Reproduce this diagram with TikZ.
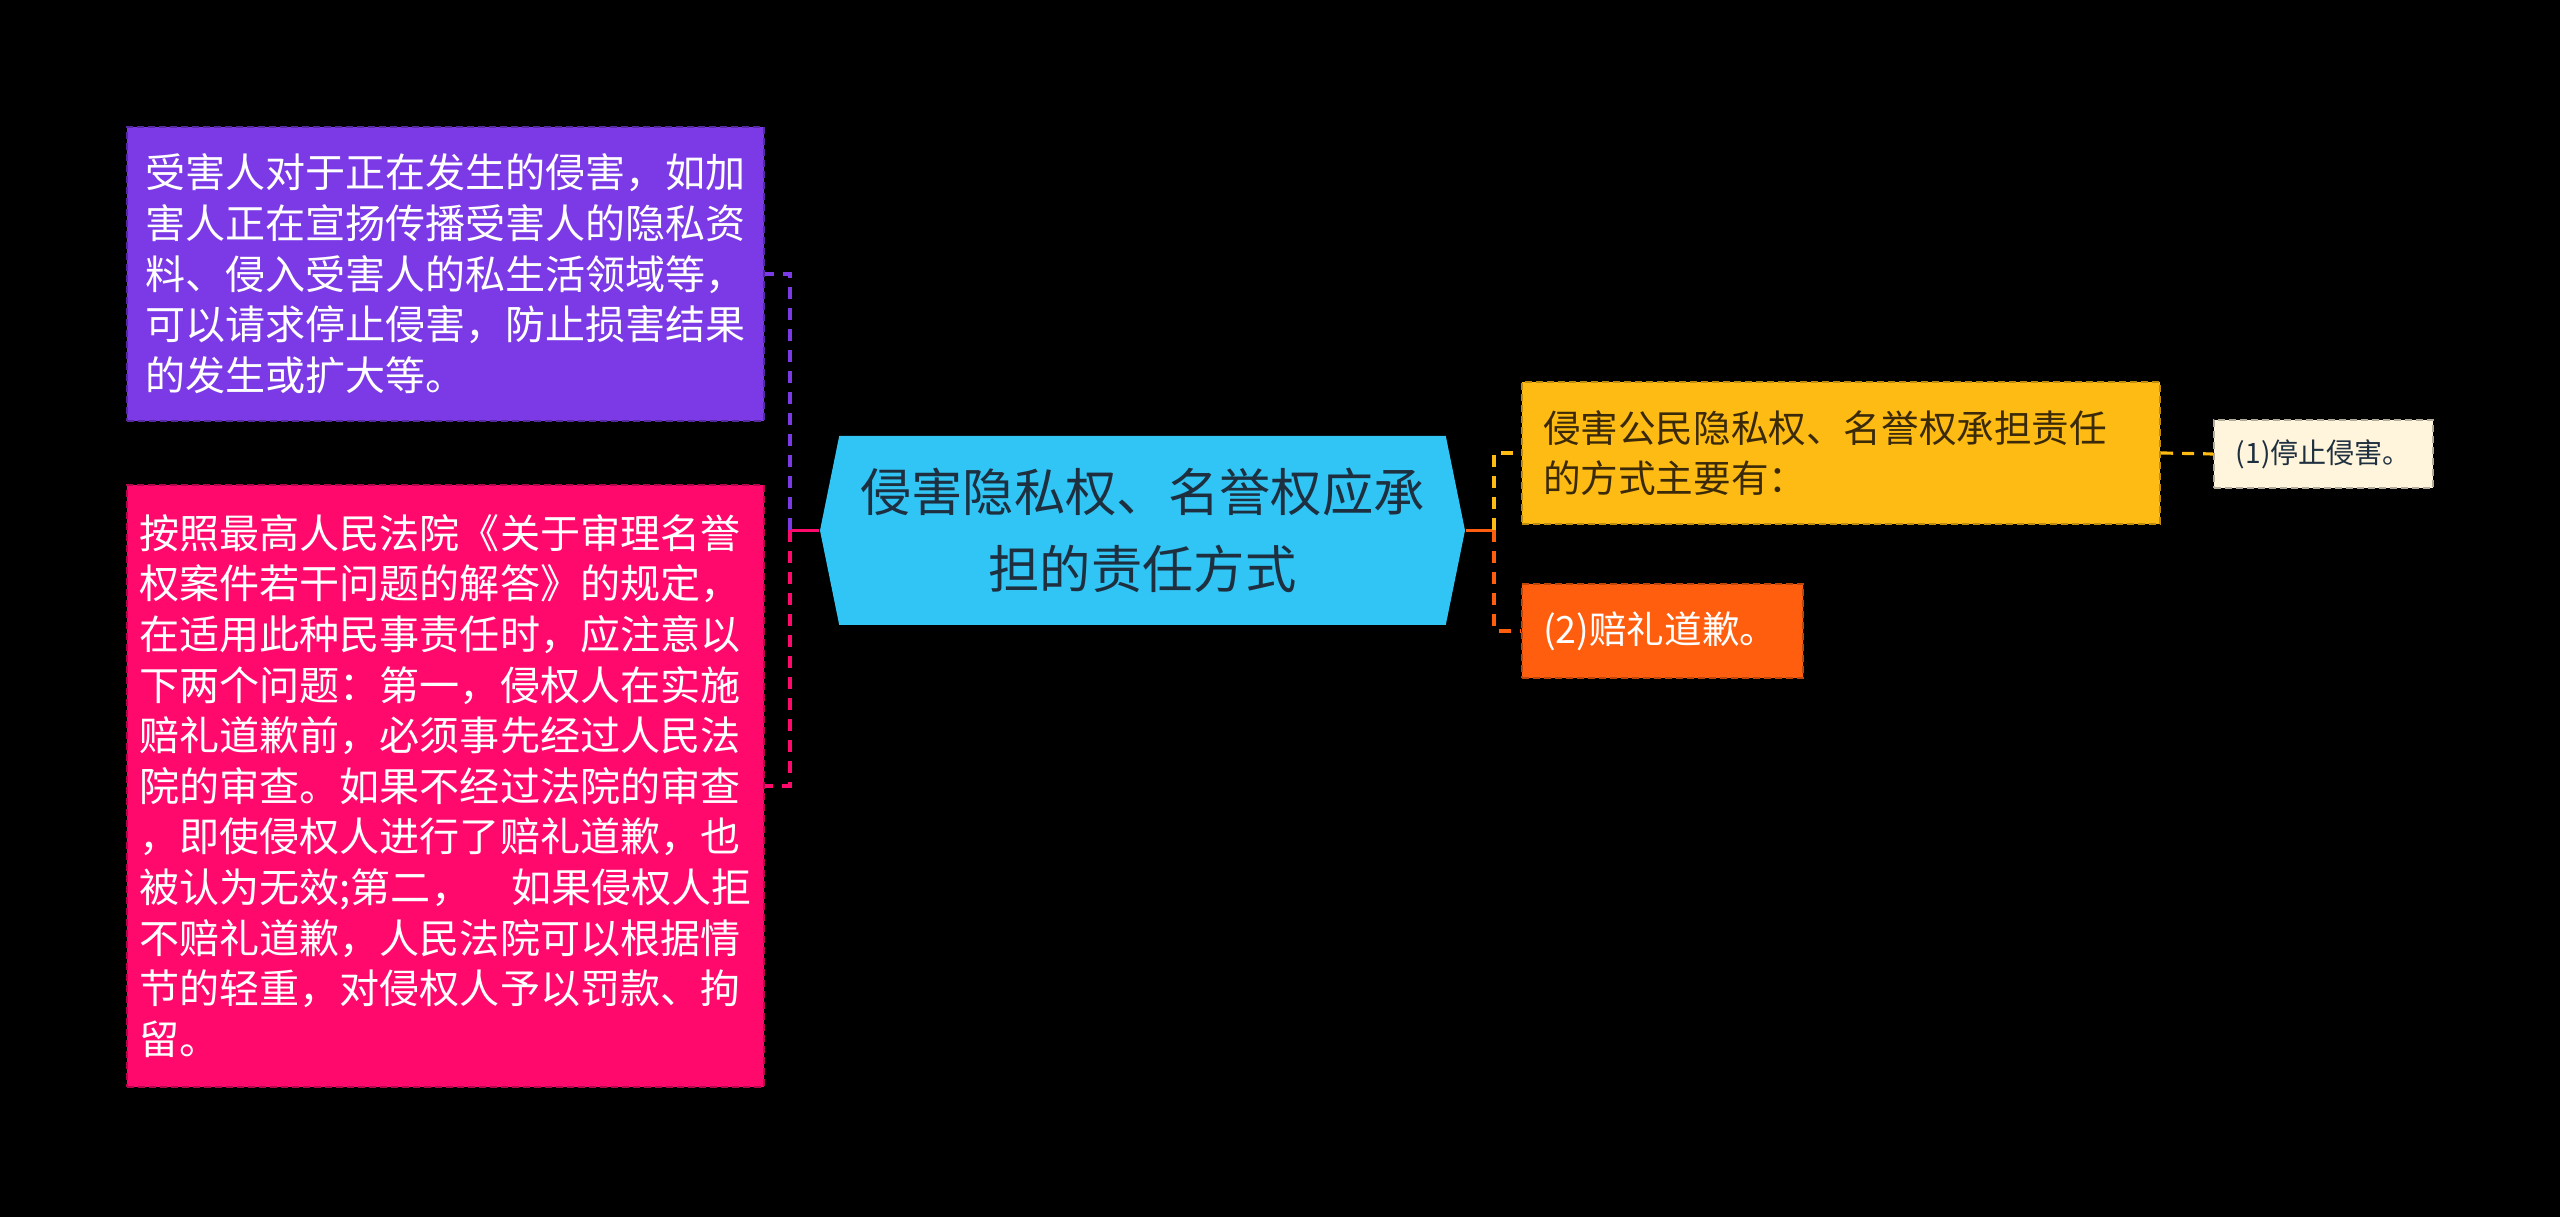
\documentclass[tikz,border=0pt]{standalone}
\usepackage{fontspec}
\setmainfont{Noto Sans CJK SC}
\usetikzlibrary{shapes.symbols}
\definecolor{bgblack}{HTML}{000000}
\definecolor{topviolet}{HTML}{7B3AE6}
\definecolor{rosered}{HTML}{FF0A6C}
\definecolor{skyblue}{HTML}{30C5F5}
\definecolor{amber}{HTML}{FDBB13}
\definecolor{flame}{HTML}{FF5E0F}
\definecolor{cream}{HTML}{FFF5DC}
\definecolor{inkdark}{HTML}{1E2F3F}
\definecolor{inkbrown}{HTML}{3B2A0A}

\begin{document}
\begin{tikzpicture}[x=1mm,y=1mm,
  leafbox/.style={dash pattern=on 0.7mm off 0.4mm, line width=0.6pt, align=left, inner sep=0pt},
  bigtext/.style={font=\fontsize{11.4}{14.4}\selectfont, text=white},
  midtext/.style={font=\fontsize{10.7}{14.4}\selectfont},
  link/.style={line width=0.9pt},
  dlink/.style={link, dash pattern=on 1.2mm off 0.9mm}]
\fill[bgblack] (0,0) rectangle (256,121.7);
\useasboundingbox (0,0) rectangle (256,121.7);

% centre
\node[shape=signal, signal to=west and east, signal pointer angle=157, fill=skyblue,
  minimum width=64.5mm, minimum height=18.9mm, inner sep=0pt, align=center,
  font=\fontsize{14.6}{21.9}\selectfont, text=inkdark] (root) at (114.25,68.65)
  {侵害隐私权、名誉权应承\\担的责任方式};

% left side
\node[leafbox, bigtext, fill=topviolet, draw=topviolet!70!black,
  minimum width=63.7mm, minimum height=29.4mm] (stopnote) at (44.55,94.3)
  {受害人对于正在发生的侵害，如加\\害人正在宣扬传播受害人的隐私资\\料、侵入受害人的私生活领域等，\\可以请求停止侵害，防止损害结果\\的发生或扩大等。};
\node[leafbox, bigtext, fill=rosered, draw=rosered!70!black,
  minimum width=63.7mm, minimum height=60.2mm] (courtnote) at (44.55,43.1)
  {按照最高人民法院《关于审理名誉\\权案件若干问题的解答》的规定，\\在适用此种民事责任时，应注意以\\下两个问题：第一，侵权人在实施\\赔礼道歉前，必须事先经过人民法\\院的审查。如果不经过法院的审查\\，即使侵权人进行了赔礼道歉，也\\被认为无效;第二，　如果侵权人拒\\不赔礼道歉，人民法院可以根据情\\节的轻重，对侵权人予以罚款、拘\\留。};

% right side
\node[leafbox, midtext, text=inkbrown, fill=amber, draw=amber!75!black,
  text width=59.6mm, inner xsep=2.1mm,
  minimum width=63.8mm, minimum height=14.2mm] (ways) at (184.1,76.4)
  {侵害公民隐私权、名誉权承担责任\\的方式主要有：};
\node[leafbox, midtext, text=white, fill=flame, draw=flame!75!black,
  text width=23.9mm, inner xsep=2.1mm,
  minimum width=28.1mm, minimum height=9.4mm] (apology) at (166.25,58.6)
  {(2)赔礼道歉。};
\node[leafbox, font=\fontsize{8}{10}\selectfont, text=inkdark, fill=cream, draw=cream!70!black,
  minimum width=21.9mm, minimum height=6.8mm] (cease) at (232.35,76.3)
  {(1)停止侵害。};

% connectors
\coordinate (lj) at (79.0,68.65);
\coordinate (rj) at (149.4,68.65);
\draw[link, rosered] (root.west) -- (lj);
\draw[dlink, topviolet] (lj) |- (stopnote.east);
\draw[dlink, rosered] (lj) |- (courtnote.east);
\draw[link, flame] (root.east) -- (rj);
\draw[dlink, amber] (rj) |- (ways.west);
\draw[dlink, flame] (rj) |- (apology.west);
\draw[dlink, amber] (ways.east) -- (cease.west);
\end{tikzpicture}
\end{document}
